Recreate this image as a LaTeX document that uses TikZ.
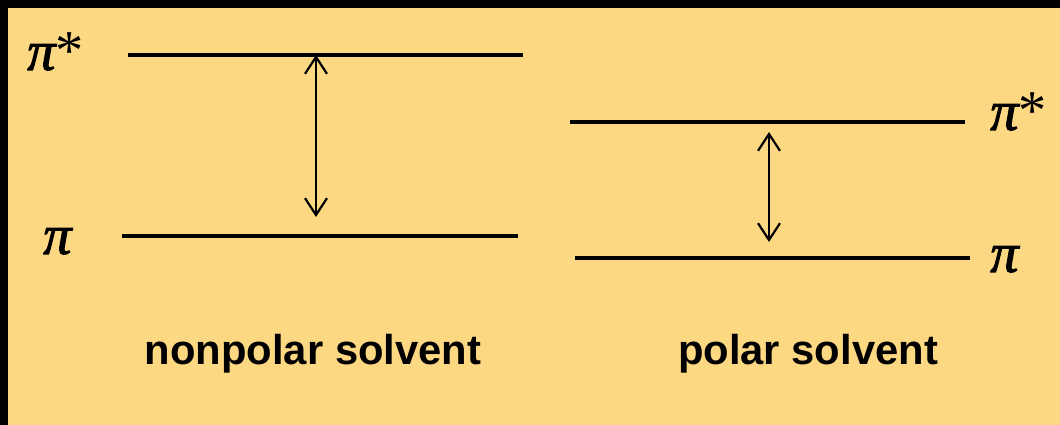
\documentclass[tikz,border=0pt]{standalone}
\usepackage{fontspec}
\setmainfont{Liberation Serif}
\setsansfont{Liberation Sans}
\newfontfamily\pifont{Liberation Serif Italic}[FakeBold=1.8]
\usetikzlibrary{arrows.meta, positioning}
\definecolor{solventbg}{RGB}{253,216,130}
\newcommand{\orbpi}{{\pifont π}}

\begin{document}
\begin{tikzpicture}[x=0.025cm, y=-0.025cm]
  % Define styles
  \tikzstyle{level} = [line width=0.11cm, black]
  \tikzstyle{gap} = [line width=0.055cm, {Straight Barb[length=0.42cm,width=0.55cm]}-{Straight Barb[length=0.42cm,width=0.55cm]}]
  \tikzstyle{orbital} = [inner sep=0pt, anchor=base west, font=\fontsize{40}{40}\selectfont]
  \tikzstyle{solvent} = [inner sep=0pt, anchor=base, font=\sffamily\bfseries\fontsize{29.7}{29.7}\selectfont]

  % Background
  \useasboundingbox (0,0) rectangle (1060,425);
  \fill[solventbg] (0,0) rectangle (1060,425);
  \fill[black] (0,0) rectangle (1060,8);
  \fill[black] (0,0) rectangle (8,425);

  % Level ends
  \coordinate (npStarA) at (128,55);
  \coordinate (npStarB) at (523,55);
  \coordinate (npPiA) at (122,236);
  \coordinate (npPiB) at (518,236);
  \coordinate (pStarA) at (570,122);
  \coordinate (pStarB) at (965,122);
  \coordinate (pPiA) at (575,258);
  \coordinate (pPiB) at (970,258);

  % Arrow ends
  \coordinate (npTop) at (316,55);
  \coordinate (npBottom) at (316,217);
  \coordinate (pTop) at (769,132);
  \coordinate (pBottom) at (769,242);

  % Place nodes
  \node [orbital] (npStarLabel) at (27,70) {\orbpi*};
  \node [orbital] (npPiLabel) at (43,254) {\orbpi};
  \node [orbital] (pStarLabel) at (990,130) {\orbpi*};
  \node [orbital] (pPiLabel) at (990,272) {\orbpi};
  \node [solvent] (npSolvent) at (313,365) {nonpolar solvent};
  \node [solvent] (pSolvent) at (808,365) {polar solvent};

  % Draw levels
  \draw [level] (npStarA) -- (npStarB);
  \draw [level] (npPiA) -- (npPiB);
  \draw [level] (pStarA) -- (pStarB);
  \draw [level] (pPiA) -- (pPiB);

  % Draw edges
  \draw [gap] (npTop) -- (npBottom);
  \draw [gap] (pTop) -- (pBottom);
\end{tikzpicture}
\end{document}
